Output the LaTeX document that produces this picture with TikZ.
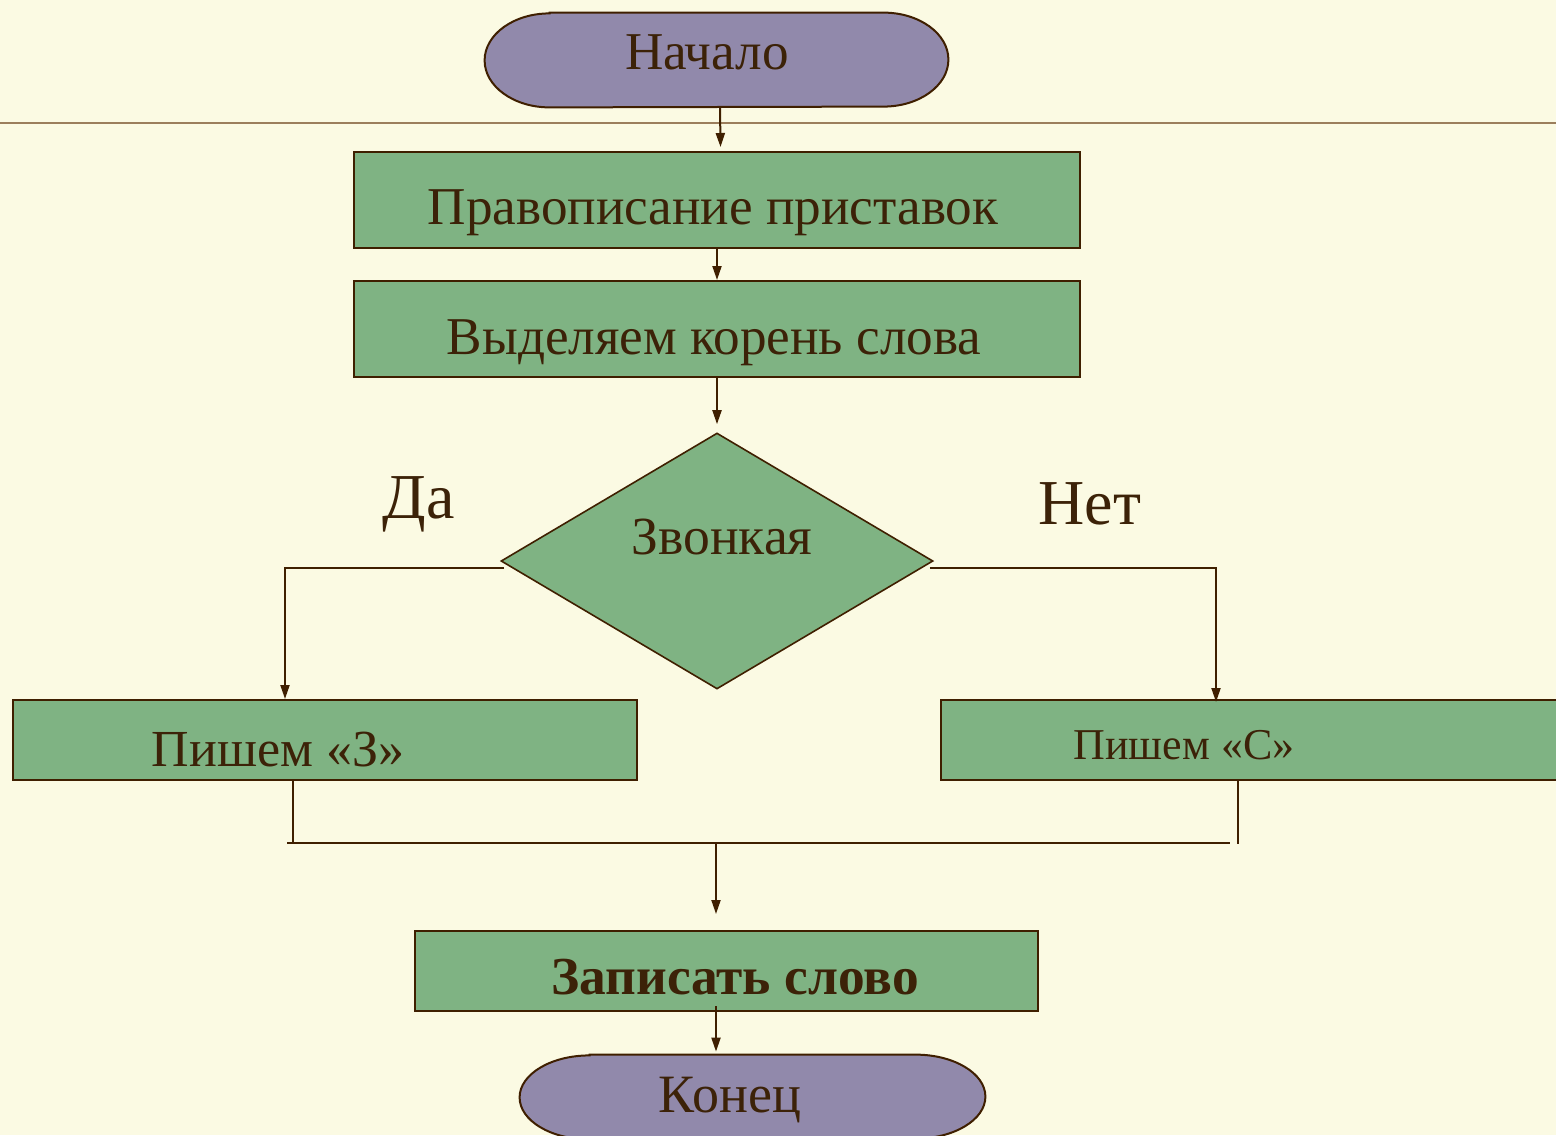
\documentclass[tikz,border=0pt]{standalone}
\usepackage{fontspec}
\setmainfont{Liberation Serif}
\usetikzlibrary{shapes.geometric,arrows.meta,calc}
\definecolor{bgc}{HTML}{FBFAE3}
\definecolor{grc}{HTML}{7FB383}
\definecolor{puc}{HTML}{9189AB}
\definecolor{lnc}{HTML}{3F1F00}
\definecolor{txc}{HTML}{3C2208}
\definecolor{rulec}{HTML}{9B7E5C}
\newcommand{\fsz}[1]{\fontsize{#1pt}{#1pt}\selectfont}
\begin{document}
\begin{tikzpicture}[x=0.5pt,y=-0.5pt,
  procbox/.style={draw=lnc, line width=1pt, fill=grc, inner sep=0pt},
  termbox/.style={inner sep=0pt},
  termshape/.style={draw=lnc, line width=1pt, fill=puc},
  decbox/.style={draw=lnc, line width=0.8pt, fill=grc, diamond, inner sep=0pt, minimum width=216pt, minimum height=128pt},
  lbl/.style={text=txc, inner sep=0pt, font=\fsz{26.6}},
  conn/.style={draw=lnc, line width=1pt},
  arr/.style={conn, -{Triangle[width=4.5pt,length=7pt]}}
]
\clip (0,0) rectangle (1556,1135);
\useasboundingbox (0,0) rectangle (1556,1135);
\fill[bgc] (0,0) rectangle (1556,1135);

% top rule
\coordinate (rl) at (0,123);
\coordinate (rr) at (1556,123);
\draw[rulec, line width=0.6pt] (rl) -- (rr);

% terminal: start
\node[termbox, minimum width=231.5pt, minimum height=47pt] (start) at (716.5,60) {};
\path[termshape] ($(start.north west)+(65,0)$) -- ($(start.north east)+(-65,0)$)
  arc[start angle=90, end angle=-90, x radius=32.5pt, y radius=23.5pt]
  -- ($(start.south west)+(65,0)$)
  arc[start angle=270, end angle=90, x radius=32.5pt, y radius=23.5pt] -- cycle;
\node[lbl] (startt) at (707,52) {Начало};

% process boxes
\node[procbox, minimum width=363pt, minimum height=48pt] (b1) at (717,200) {};
\node[lbl] (b1t) at (713,213) {Правописание приставок};
\node[procbox, minimum width=363pt, minimum height=48pt] (b2) at (717,329) {};
\node[lbl] (b2t) at (714,343) {Выделяем корень слова};

% decision
\node[decbox] (d) at (717,561) {};
\node[lbl, font=\fsz{26.8}] (dt) at (722,537) {Звонкая};
\node[lbl, font=\fsz{32}] (yes) at (419,504) {Да};
\node[lbl, font=\fsz{32}] (no) at (1090,504) {Нет};

% branches
\node[procbox, minimum width=312pt, minimum height=40pt] (b3) at (325,740) {};
\node[lbl, font=\fsz{26}] (b3t) at (278,750) {Пишем «З»};
\node[procbox, minimum width=312pt, minimum height=40pt] (b4) at (1253,740) {};
\node[lbl, font=\fsz{22}] (b4t) at (1184,745) {Пишем «С»};

% final process
\node[procbox, minimum width=311.5pt, minimum height=40pt] (b5) at (726.5,971) {};
\node[lbl, font=\bfseries\fsz{26.7}] (b5t) at (735,977) {Записать слово};

% terminal: end
\node[termbox, minimum width=232.5pt, minimum height=42pt] (fin) at (752.5,1097) {};
\path[termshape] ($(fin.north west)+(70,0)$) -- ($(fin.north east)+(-70,0)$)
  arc[start angle=90, end angle=-90, x radius=35pt, y radius=21pt]
  -- ($(fin.south west)+(70,0)$)
  arc[start angle=270, end angle=90, x radius=35pt, y radius=21pt] -- cycle;
\node[lbl, font=\fsz{27}] (fint) at (730,1100) {Конец};

% connectors
\draw[arr] ($(start.south)+(3.5,0)$) -- ($(b1.north)+(3.5,-4)$);
\draw[arr] (b1.south) -- (b2.north);
\draw[arr] (b2.south) -- ($(d.north)+(0,-8)$);

\coordinate (dl) at ($(d.west)+(4,7)$);
\coordinate (dr) at ($(d.east)+(-4,7)$);
\draw[arr] (dl) -| ($(b3.north)+(-40,0)$);
\draw[arr] (dr) -| ($(b4.north)+(-37,3)$);

\coordinate (ml) at (287,843);
\coordinate (mr) at (1230,843);
\coordinate (mm) at (716,843);
\draw[conn, line width=0.7pt] ($(b3.south)+(-32,0)$) -- ($(b3.south)+(-32,63)$);
\draw[conn, line width=0.7pt] ($(b4.south)+(-15,0)$) -- ($(b4.south)+(-15,63)$);
\draw[conn] (ml) -- (mr);
\draw[arr] (mm) -- ($(b5.north)+(-10.5,-16)$);
\draw[arr] ($(b5.south)+(-10.5,-6)$) -- ($(fin.north)+(-36.5,-3)$);
\end{tikzpicture}
\end{document}
